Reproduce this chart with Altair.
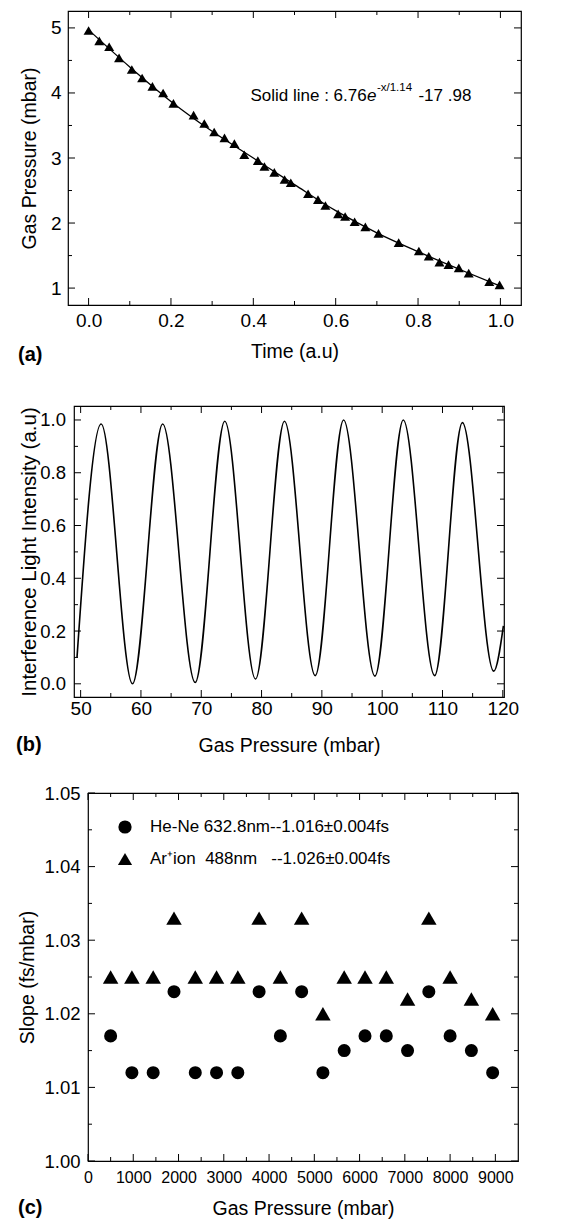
import altair as alt
import pandas as pd

FONT = "Liberation Sans"

# ---------------- data ----------------
# (a) pressure decay
a_time = [0.000, 0.026, 0.050, 0.074, 0.105, 0.130, 0.155, 0.181, 0.206, 0.255, 0.281, 0.305,
          0.330, 0.354, 0.378, 0.411, 0.427, 0.451, 0.476, 0.491, 0.533, 0.557, 0.575, 0.606,
          0.623, 0.646, 0.672, 0.704, 0.753, 0.802, 0.826, 0.852, 0.874, 0.899, 0.923, 0.973, 0.998]
a_pressure = [4.96, 4.80, 4.71, 4.54, 4.36, 4.23, 4.10, 4.00, 3.84, 3.66, 3.53, 3.40,
              3.31, 3.22, 3.05, 2.96, 2.87, 2.78, 2.67, 2.62, 2.45, 2.36, 2.27, 2.14,
              2.10, 2.02, 1.94, 1.84, 1.70, 1.57, 1.49, 1.40, 1.36, 1.31, 1.23, 1.10, 1.05]
a_fit_time = [0.0, 0.1, 0.2, 0.3, 0.4, 0.5, 0.6, 0.7, 0.8, 0.9, 1.0]
a_fit_pressure = [4.97, 4.40, 3.87, 3.41, 3.00, 2.59, 2.19, 1.85, 1.56, 1.29, 1.03]
a_xticks_major = [0.0, 0.2, 0.4, 0.6, 0.8, 1.0]
a_xticks_minor = [0.1, 0.3, 0.5, 0.7, 0.9]
a_yticks_major = [1, 2, 3, 4, 5]
a_yticks_minor = [1.5, 2.5, 3.5, 4.5]

# (b) interference fringes (extrema)
b_pressure = [49.4, 53.4, 58.6, 63.6, 69.0, 73.9, 79.0, 83.8, 88.9, 93.6, 98.8, 103.5, 108.7, 113.3, 118.5, 120.1]
b_intensity = [0.10, 0.985, 0.0, 0.985, 0.005, 0.995, 0.018, 0.995, 0.031, 1.0, 0.029, 1.0, 0.031, 0.99, 0.048, 0.22]
b_xticks_major = [50, 60, 70, 80, 90, 100, 110, 120]
b_xticks_minor = [55, 65, 75, 85, 95, 105, 115]
b_yticks_major = [0.0, 0.2, 0.4, 0.6, 0.8, 1.0]
b_yticks_minor = [0.1, 0.3, 0.5, 0.7, 0.9]

# (c) slopes
c_pressure = [500, 970, 1440, 1900, 2370, 2840, 3310, 3780, 4250, 4720, 5190, 5660, 6120, 6590, 7060, 7530, 8000, 8470, 8940]
c_hene = [1.017, 1.012, 1.012, 1.023, 1.012, 1.012, 1.012, 1.023, 1.017, 1.023, 1.012, 1.015, 1.017, 1.017, 1.015, 1.023, 1.017, 1.015, 1.012]
c_ar = [1.025, 1.025, 1.025, 1.033, 1.025, 1.025, 1.025, 1.033, 1.025, 1.033, 1.020, 1.025, 1.025, 1.025, 1.022, 1.033, 1.025, 1.022, 1.020]
c_series = ["He-Ne 632.8nm--1.016\u00b10.004fs",
            "Ar\u207aion\u00a0\u00a0488nm\u00a0\u00a0\u00a0--1.026\u00b10.004fs"]
c_shapes = ["circle", "triangle-up"]
c_xticks_major = [0, 1000, 2000, 3000, 4000, 5000, 6000, 7000, 8000, 9000]
c_xticks_minor = [500, 1500, 2500, 3500, 4500, 5500, 6500, 7500, 8500]
c_yticks_major = [1.00, 1.01, 1.02, 1.03, 1.04, 1.05]
c_yticks_minor = [1.005, 1.015, 1.025, 1.035, 1.045]


def tick_rules(xs, ys, W, H, xmaj, xmin, ymaj, ymin, lmaj=7, lmin=4):
    """Inward ticks on all four sides of a panel frame."""
    layers = []
    for vals, L in ((xmaj, lmaj), (xmin, lmin)):
        base = alt.Chart(pd.DataFrame({"v": vals})).mark_rule(color="black", strokeWidth=1)
        xe = alt.X("v:Q", scale=xs, axis=None)
        layers.append(base.encode(x=xe, y=alt.value(H), y2=alt.value(H - L)))
        layers.append(base.encode(x=xe, y=alt.value(0), y2=alt.value(L)))
    for vals, L in ((ymaj, lmaj), (ymin, lmin)):
        base = alt.Chart(pd.DataFrame({"v": vals})).mark_rule(color="black", strokeWidth=1)
        ye = alt.Y("v:Q", scale=ys, axis=None)
        layers.append(base.encode(y=ye, x=alt.value(0), x2=alt.value(L)))
        layers.append(base.encode(y=ye, x=alt.value(W), x2=alt.value(W - L)))
    return layers


def main_axis(orient, values, fmt, title, lsize, lpad, tpad, tsize=19.5):
    return alt.Axis(orient=orient, values=values, format=fmt, title=title, ticks=False,
                    domain=False, grid=False, labelFontSize=lsize, labelPadding=lpad,
                    titleFontSize=tsize, titlePadding=tpad, labelFlush=False,
                    labelOverlap=False, labelFont=FONT, titleFont=FONT,
                    labelColor="black", titleColor="black", titleFontWeight="normal")


def panel_label(text, dx, dy):
    return alt.Chart(pd.DataFrame({"t": [text]})).mark_text(
        align="left", baseline="middle", font=FONT, fontSize=20, fontWeight="bold",
        color="black").encode(text="t:N", x=alt.value(dx), y=alt.value(dy))


def spacer(w):
    return alt.Chart(pd.DataFrame({"s": [0]})).mark_point(opacity=0).encode(
        x=alt.X("s:Q", axis=None), y=alt.Y("s:Q", axis=None)
    ).properties(width=w, height=1, view=alt.ViewBackground(stroke="transparent"))


# ---------------- panel (a) ----------------
W_A, H_A = 453, 294
xs_a = alt.Scale(domain=[-0.05, 1.05], nice=False, zero=False)
ys_a = alt.Scale(domain=[0.74, 5.26], nice=False, zero=False)
df_a = pd.DataFrame({"t": a_time, "p": a_pressure})
df_fit = pd.DataFrame({"t": a_fit_time, "p": a_fit_pressure})

fit = alt.Chart(df_fit).mark_line(color="black", strokeWidth=1.3, interpolate="monotone").encode(
    x=alt.X("t:Q", scale=xs_a, axis=main_axis("bottom", a_xticks_major, ".1f", "Time (a.u)", 19, 6, 12)),
    y=alt.Y("p:Q", scale=ys_a, axis=main_axis("left", a_yticks_major, "d", "Gas Pressure (mbar)", 19, 7, 11)))
pts_a = alt.Chart(df_a).mark_point(shape="triangle-up", filled=True, color="black", size=100, opacity=1).encode(
    x=alt.X("t:Q", scale=xs_a, axis=None), y=alt.Y("p:Q", scale=ys_a, axis=None))

df_ann = pd.DataFrame({"t": [0.393], "p": [3.95]})
ann_base = alt.Chart(df_ann)
ann_enc = dict(x=alt.X("t:Q", scale=xs_a, axis=None), y=alt.Y("p:Q", scale=ys_a, axis=None))
ann1 = ann_base.mark_text(text="Solid line : 6.76", align="left", baseline="middle", font=FONT,
                          fontSize=17, color="black").encode(**ann_enc)
ann2 = ann_base.mark_text(text="e", align="left", baseline="middle", font=FONT, fontSize=17,
                          fontStyle="italic", color="black", dx=116.5).encode(**ann_enc)
ann3 = ann_base.mark_text(text="-x/1.14", align="left", baseline="middle", font=FONT, fontSize=11.5,
                          color="black", dx=126.5, dy=-8).encode(**ann_enc)
ann4 = ann_base.mark_text(text="-17 .98", align="left", baseline="middle", font=FONT, fontSize=17,
                          color="black", dx=168).encode(**ann_enc)

panel_a = alt.layer(
    fit, pts_a, ann1, ann2, ann3, ann4,
    *tick_rules(xs_a, ys_a, W_A, H_A, a_xticks_major, a_xticks_minor, a_yticks_major, a_yticks_minor),
    panel_label("(a)", -50, H_A + 50)
).resolve_axis(x="independent", y="independent").properties(width=W_A, height=H_A)

# ---------------- panel (b) ----------------
W_B, H_B = 430, 291
xs_b = alt.Scale(domain=[48.9, 120.2], nice=False, zero=False)
ys_b = alt.Scale(domain=[-0.05, 1.053], nice=False, zero=False)
df_b = pd.DataFrame({"p": b_pressure, "i": b_intensity})

line_b = alt.Chart(df_b).mark_line(color="black", strokeWidth=1.6, interpolate="monotone").encode(
    x=alt.X("p:Q", scale=xs_b, axis=main_axis("bottom", b_xticks_major, "d", "Gas Pressure (mbar)", 19, 2, 18)),
    y=alt.Y("i:Q", scale=ys_b, axis=main_axis("left", b_yticks_major, ".1f", "Interference Light Intensity (a.u)",
                                             18.5, 8.5, 0, tsize=20.5)))

panel_b = alt.layer(
    line_b,
    *tick_rules(xs_b, ys_b, W_B, H_B, b_xticks_major, b_xticks_minor, b_yticks_major, b_yticks_minor),
    panel_label("(b)", -58, H_B + 48)
).resolve_axis(x="independent", y="independent").properties(width=W_B, height=H_B)

# ---------------- panel (c) ----------------
W_C, H_C = 430, 368
xs_c = alt.Scale(domain=[0, 9500], nice=False, zero=False)
ys_c = alt.Scale(domain=[1.0, 1.05], nice=False, zero=False)
df_c = pd.DataFrame({
    "pressure": c_pressure + c_pressure,
    "slope": c_hene + c_ar,
    "series": [c_series[0]] * len(c_pressure) + [c_series[1]] * len(c_pressure),
})

pts_c = alt.Chart(df_c).mark_point(filled=True, color="black", opacity=1).encode(
    x=alt.X("pressure:Q", scale=xs_c, axis=main_axis("bottom", c_xticks_major, "d", "Gas Pressure (mbar)", 16, 8, 14)),
    y=alt.Y("slope:Q", scale=ys_c, axis=main_axis("left", c_yticks_major, ".2f", "Slope (fs/mbar)", 18.5, 8, 6)),
    shape=alt.Shape("series:N", scale=alt.Scale(domain=c_series, range=c_shapes), legend=None),
    size=alt.Size("series:N", scale=alt.Scale(domain=c_series, range=[170, 240]), legend=None),
)

# legend entries (symbol + label) drawn inside the frame, top-left
leg_df = pd.DataFrame({"label": c_series, "shape": c_shapes})
legend_layers = []
for i, ypx in enumerate([34, 66]):
    row = leg_df.iloc[[i]]
    legend_layers.append(
        alt.Chart(row).mark_point(shape=c_shapes[i], filled=True, color="black", opacity=1,
                                  size=[175, 200][i]).encode(x=alt.value(37), y=alt.value(ypx)))
    legend_layers.append(
        alt.Chart(row).mark_text(align="left", baseline="middle", font=FONT, fontSize=17,
                                 color="black").encode(text="label:N", x=alt.value(62), y=alt.value(ypx)))

panel_c = alt.layer(
    pts_c, *legend_layers,
    *tick_rules(xs_c, ys_c, W_C, H_C, c_xticks_major, c_xticks_minor, c_yticks_major, c_yticks_minor),
    panel_label("(c)", -70, H_C + 47)
).resolve_axis(x="independent", y="independent").properties(width=W_C, height=H_C)

# ---------------- layout ----------------
row_a = alt.hconcat(spacer(4), panel_a, spacing=0)
row_b = alt.hconcat(spacer(1), panel_b, spacing=0)
row_c = alt.hconcat(spacer(5), panel_c, spacing=0).resolve_scale(shape="independent", size="independent")
inner = alt.vconcat(row_b, row_c, spacing=27).resolve_scale(shape="independent", size="independent")
chart = alt.vconcat(row_a, inner, spacing=37).resolve_scale(
    shape="independent", size="independent"
).properties(
    padding={"left": 0, "top": 0, "right": 0, "bottom": 0}
).configure_view(stroke="black", strokeWidth=1.2).configure_axis(
    labelFont=FONT, titleFont=FONT, labelColor="black", titleColor="black", titleFontWeight="normal"
)

chart.save("out.html", embed_options={"renderer": "svg", "actions": False})
